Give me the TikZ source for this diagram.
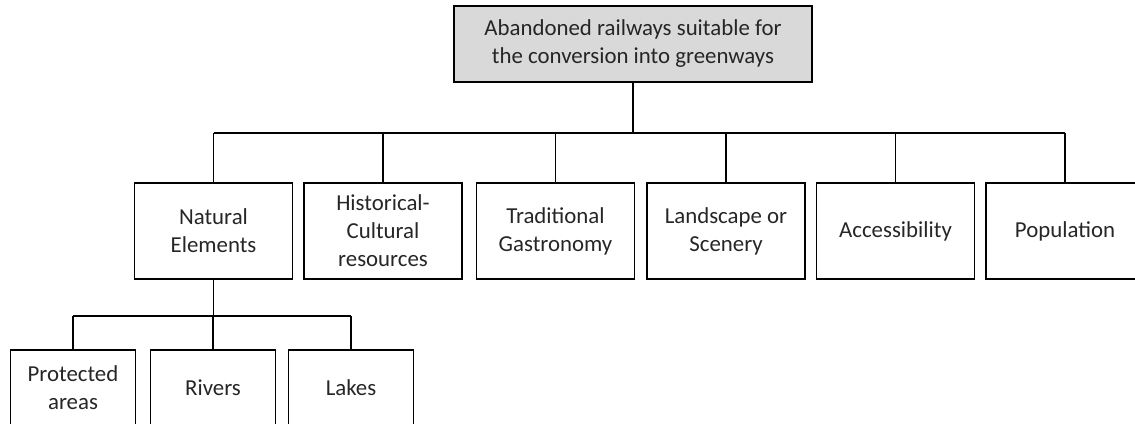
\documentclass[tikz,border=0pt]{standalone}
\usepackage{fontspec}
\setmainfont{Carlito}
\definecolor{boxgray}{HTML}{D9D9D9}
\definecolor{txtgray}{HTML}{262626}
\tikzset{
  catbox/.style={draw, line width=1pt, minimum width=3.16cm, minimum height=1.92cm,
    align=center, text=txtgray, font=\fontsize{13}{15.9}\selectfont},
  subbox/.style={catbox, minimum width=2.5cm, minimum height=1.52cm},
  link/.style={line width=1pt}
}
\begin{document}
\begin{tikzpicture}
\useasboundingbox (0,0) rectangle (22.7,-8.46);

% root
\node[catbox, fill=boxgray, minimum width=7.16cm, minimum height=1.52cm] (root) at (12.66,-0.88)
  {Abandoned railways suitable for\\the conversion into greenways};

% criteria
\node[catbox] (natural) at (4.27,-4.62) {Natural\\Elements};
\node[catbox] (heritage) at (7.66,-4.62) {Historical-\\Cultural\\resources};
\node[catbox] (food) at (11.11,-4.62) {Traditional\\Gastronomy};
\node[catbox] (scenery) at (14.52,-4.62) {Landscape or\\Scenery};
\node[catbox] (access) at (17.91,-4.62) {Accessibility};
\node[catbox] (people) at (21.30,-4.62) {Population};

\coordinate (bus) at (12.66,-2.66);
\draw[link] (root.south) -- (root.south |- bus);
\draw[link] (natural.north |- bus) -- (people.north |- bus);
\draw[link] (natural.north) -- (natural.north |- bus);
\draw[link] (heritage.north) -- (heritage.north |- bus);
\draw[link] (food.north) -- (food.north |- bus);
\draw[link] (scenery.north) -- (scenery.north |- bus);
\draw[link] (access.north) -- (access.north |- bus);
\draw[link] (people.north) -- (people.north |- bus);

% natural elements
\node[subbox] (protected) at (1.46,-7.76) {Protected\\areas};
\node[subbox] (rivers) at (4.26,-7.76) {Rivers};
\node[subbox] (lakes) at (7.02,-7.76) {Lakes};

\coordinate (subbus) at (4.26,-6.32);
\draw[link] (natural.south) -- (natural.south |- subbus);
\draw[link] (protected.north |- subbus) -- (lakes.north |- subbus);
\draw[link] (protected.north) -- (protected.north |- subbus);
\draw[link] (rivers.north) -- (rivers.north |- subbus);
\draw[link] (lakes.north) -- (lakes.north |- subbus);

\end{tikzpicture}
\end{document}
